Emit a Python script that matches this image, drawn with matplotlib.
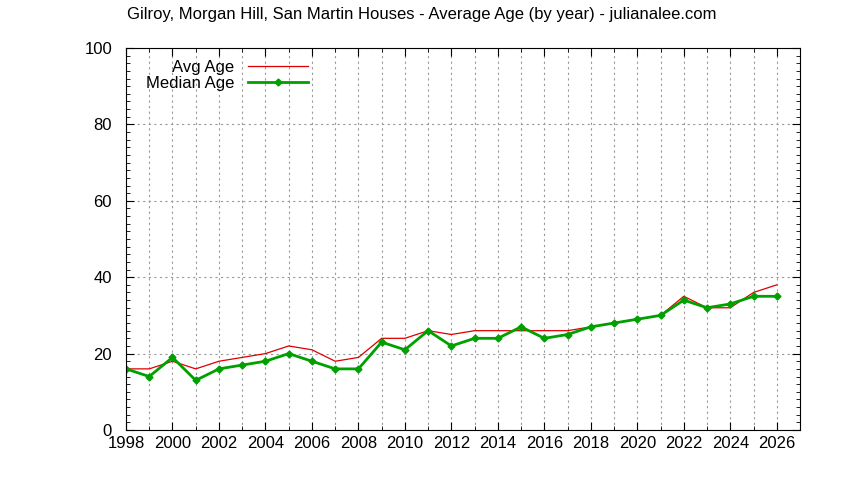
import matplotlib
matplotlib.use("Agg")
import matplotlib.pyplot as plt
from matplotlib.ticker import MultipleLocator

years = list(range(1998, 2027))
avg_age = [16,16,18,16,18,19,20,22,21,18,19,24,24,26,25,26,26,26,26,26,27,28,29,30,35,32,32,36,38]
median_age = [16,14,19,13,16,17,18,20,18,16,16,23,21,26,22,24,24,27,24,25,27,28,29,30,34,32,33,35,35]

plt.rcParams['font.family'] = ['Liberation Sans', 'DejaVu Sans']
fig = plt.figure(figsize=(8.44, 4.8), dpi=100)
ax = fig.add_axes([126/844, 50/480, 674/844, 382/480])
ax.plot(years, avg_age, color='#dd0000', lw=0.9, label='Avg Age')
ax.plot(years, median_age, color='#00a000', lw=2, marker='D', ms=3.5, label='Median Age')
ax.set_xlim(1998, 2027)
ax.set_ylim(0, 100)
ax.xaxis.set_major_locator(MultipleLocator(2))
ax.xaxis.set_minor_locator(MultipleLocator(1))
ax.yaxis.set_major_locator(MultipleLocator(20))
ax.yaxis.set_minor_locator(MultipleLocator(2))
for which in ('major', 'minor'):
    ax.grid(True, which=which, axis='x', ls=(0, (2, 3)), color='#999999', lw=0.8)
ax.grid(True, which='major', axis='y', ls=(0, (2, 3)), color='#999999', lw=0.8)
ax.tick_params(which='both', direction='in', top=True, right=True, labelsize=12)
ax.tick_params(which='major', length=6)
ax.tick_params(which='minor', length=3)
ax.tick_params(axis='x', pad=4)
ax.tick_params(axis='y', pad=10)
leg = ax.legend(loc='upper left', bbox_to_anchor=(0.015, 0.995), frameon=False, fontsize=12,
                markerfirst=False, handlelength=3.6, borderaxespad=0.2, labelspacing=0.05)
for t in leg.get_texts():
    t.set_ha('right')
fig.text(0.5, 0.985, 'Gilroy, Morgan Hill, San Martin Houses - Average Age (by year) - julianalee.com',
         ha='center', va='top', fontsize=12)
fig.savefig('out.png', dpi=100)
